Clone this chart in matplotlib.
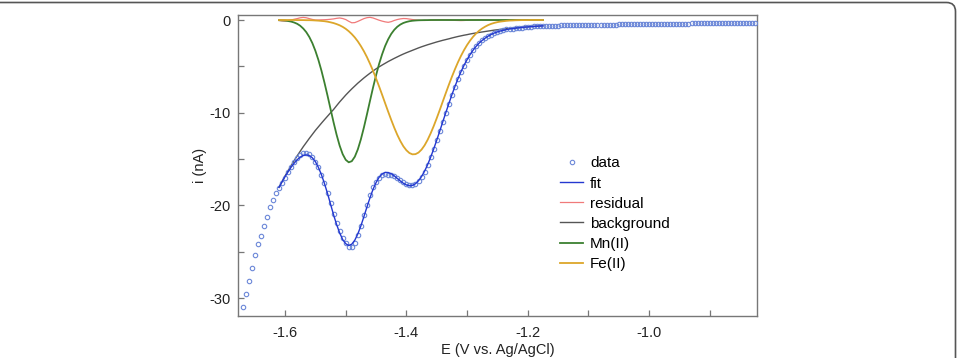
import numpy as np
import matplotlib
matplotlib.use("Agg")
import matplotlib.pyplot as plt
from matplotlib.patches import FancyBboxPatch

plt.rcParams['font.family'] = ['Liberation Sans', 'DejaVu Sans']

# scan settings of the measured curve (V)
scan_start = -1.670
scan_step = 0.005

# measured current (nA), one value per scan step
data_i = [
    -31.0, -29.6, -28.2, -26.8, -25.4, -24.2, -23.3, -22.2, -21.2, -20.2, -19.4, -18.7,
    -18.11, -17.57, -17.01, -16.44, -15.88, -15.37, -14.92, -14.55, -14.32, -14.31,
    -14.47, -14.80, -15.28, -15.90, -16.67, -17.61, -18.66, -19.78, -20.90, -21.88,
    -22.74, -23.52, -24.08, -24.46, -24.48, -24.03, -23.22, -22.21, -21.06, -19.92,
    -18.89, -18.05, -17.44, -16.99, -16.74, -16.65, -16.70, -16.76, -16.86, -17.04,
    -17.24, -17.45, -17.64, -17.78, -17.79, -17.65, -17.36, -16.93, -16.36, -15.65,
    -14.83, -13.93, -12.97, -11.98, -10.96, -9.98, -9.02, -8.09, -7.22, -6.39,
    -5.64, -4.94, -4.31, -3.74, -3.25, -2.83, -2.47, -2.19, -1.95, -1.74,
    -1.57, -1.43, -1.31, -1.20, -1.11, -1.02, -0.95, -0.92, -0.88, -0.85,
    -0.81, -0.77, -0.75, -0.71, -0.69, -0.67, -0.65, -0.63,
    -0.62, -0.62, -0.61, -0.61, -0.60, -0.59, -0.59, -0.58, -0.58, -0.57,
    -0.56, -0.56, -0.55, -0.55, -0.54, -0.53, -0.53, -0.52, -0.52, -0.51,
    -0.50, -0.50, -0.49, -0.49, -0.48, -0.48, -0.47, -0.46, -0.46, -0.45,
    -0.45, -0.44, -0.44, -0.43, -0.43, -0.42, -0.42, -0.41, -0.41, -0.40,
    -0.40, -0.40, -0.39, -0.39, -0.39, -0.38, -0.38, -0.38, -0.37, -0.37,
    -0.37, -0.36, -0.36, -0.36, -0.36, -0.35, -0.35, -0.34, -0.34, -0.33,
    -0.33, -0.32, -0.32, -0.31, -0.31, -0.31, -0.30, -0.30, -0.29, -0.29,
]

# fitted curves, sampled from -1.610 V every 0.005 V
fit_start = -1.610

fit_i = [
    -18.06, -17.47, -16.89, -16.38, -15.88, -15.45, -15.07, -14.79, -14.60, -14.55,
    -14.62, -14.86, -15.28, -15.90, -16.69, -17.64, -18.71, -19.86, -21.02, -22.06,
    -22.96, -23.68, -24.13, -24.32, -24.18, -23.75, -23.07, -22.21, -21.21, -20.17,
    -19.18, -18.27, -17.54, -16.97, -16.62, -16.45, -16.45, -16.58, -16.81, -17.09,
    -17.36, -17.61, -17.79, -17.88, -17.84, -17.66, -17.34, -16.89, -16.31, -15.61,
    -14.80, -13.92, -12.97, -11.99, -10.98, -9.99, -9.02, -8.07, -7.18, -6.34,
    -5.58, -4.89, -4.28, -3.73, -3.25, -2.84, -2.49, -2.20, -1.95, -1.73,
    -1.55, -1.40, -1.28, -1.18, -1.11, -1.03, -0.97, -0.93, -0.88, -0.84,
    -0.80, -0.77, -0.75, -0.71, -0.69, -0.67, -0.65, -0.63,
]

residual_i = [
    -0.05, -0.10, -0.12, -0.06, 0.00, 0.08, 0.15, 0.24, 0.28, 0.24,
    0.15, 0.06, 0.00, 0.00, 0.02, 0.03, 0.05, 0.08, 0.12, 0.18,
    0.22, 0.16, 0.05, -0.14, -0.30, -0.28, -0.15, 0.00, 0.15, 0.25,
    0.29, 0.22, 0.10, -0.02, -0.12, -0.20, -0.25, -0.18, -0.05, 0.05,
    0.12, 0.16, 0.15, 0.10, 0.05, 0.01, -0.02, -0.04, -0.05, -0.04,
    -0.03, -0.01, 0.00, 0.01, 0.02, 0.01, 0.00, -0.02, -0.04, -0.05,
    -0.06, -0.05, -0.03, -0.01, 0.00, 0.01, 0.02, 0.01, 0.00, -0.01,
    -0.02, -0.03, -0.03, -0.02, 0.00, 0.01, 0.02, 0.01, 0.00, -0.01,
    -0.01, 0.00, 0.00, 0.00, 0.00, 0.00, 0.00, 0.00,
]

background_i = [
    -18.04, -17.43, -16.83, -16.27, -15.71, -15.18, -14.65, -14.16, -13.67, -13.22,
    -12.77, -12.34, -11.91, -11.52, -11.13, -10.75, -10.38, -10.01, -9.65, -9.24,
    -8.84, -8.47, -8.10, -7.76, -7.43, -7.12, -6.81, -6.53, -6.25, -5.99,
    -5.74, -5.50, -5.27, -5.06, -4.86, -4.67, -4.48, -4.31, -4.14, -3.98,
    -3.82, -3.67, -3.53, -3.40, -3.27, -3.14, -3.01, -2.89, -2.78, -2.67,
    -2.57, -2.47, -2.37, -2.28, -2.19, -2.11, -2.03, -1.94, -1.86, -1.78,
    -1.71, -1.64, -1.58, -1.51, -1.45, -1.39, -1.34, -1.29, -1.24, -1.19,
    -1.14, -1.09, -1.05, -1.01, -0.98, -0.94, -0.91, -0.88, -0.85, -0.82,
    -0.79, -0.76, -0.74, -0.71, -0.69, -0.67, -0.65, -0.63,
]

mn_i = [
    -0.02, -0.04, -0.06, -0.11, -0.17, -0.27, -0.41, -0.62, -0.92, -1.31,
    -1.83, -2.49, -3.32, -4.31, -5.46, -6.76, -8.15, -9.60, -11.04, -12.38,
    -13.55, -14.47, -15.08, -15.35, -15.23, -14.75, -13.95, -12.87, -11.59, -10.18,
    -8.73, -7.30, -5.97, -4.75, -3.70, -2.80, -2.08, -1.50, -1.06, -0.73,
    -0.49, -0.32, -0.21, -0.13, -0.08, -0.05, -0.03, -0.02, -0.01, -0.01,
    0.00, 0.00, 0.00, 0.00, 0.00, 0.00, 0.00, 0.00, 0.00, 0.00,
    0.00, 0.00, 0.00, 0.00, 0.00, 0.00, 0.00, 0.00, 0.00, 0.00,
    0.00, 0.00, 0.00, 0.00, 0.00, 0.00, 0.00, 0.00, 0.00, 0.00,
    0.00, 0.00, 0.00, 0.00, 0.00, 0.00, 0.00, 0.00,
]

fe_i = [
    0.00, 0.00, 0.00, 0.00, 0.00, 0.00, -0.01, -0.01, -0.01, -0.02,
    -0.02, -0.03, -0.05, -0.07, -0.10, -0.13, -0.18, -0.25, -0.33, -0.44,
    -0.57, -0.74, -0.95, -1.21, -1.52, -1.88, -2.31, -2.81, -3.37, -4.00,
    -4.71, -5.47, -6.30, -7.16, -8.06, -8.98, -9.89, -10.77, -11.61, -12.38,
    -13.05, -13.62, -14.05, -14.35, -14.49, -14.47, -14.30, -13.98, -13.52, -12.93,
    -12.23, -11.45, -10.60, -9.71, -8.79, -7.88, -6.99, -6.13, -5.32, -4.56,
    -3.87, -3.25, -2.70, -2.22, -1.80, -1.45, -1.15, -0.91, -0.71, -0.54,
    -0.41, -0.31, -0.23, -0.17, -0.13, -0.09, -0.06, -0.05, -0.03, -0.02,
    -0.01, -0.01, -0.01, 0.00, 0.00, 0.00, 0.00, 0.00,
]

data_e = scan_start + scan_step * np.arange(len(data_i))
fit_e = fit_start + scan_step * np.arange(len(fit_i))

fig = plt.figure(figsize=(9.59, 3.58), dpi=100)
ax = fig.add_axes([0.2482, 0.1173, 0.5412, 0.8408])

ax.plot(data_e, data_i, linestyle='none', marker='o', markersize=3.2,
        markerfacecolor='none', markeredgecolor='#6b87d8', markeredgewidth=0.8,
        label='data', zorder=3)
ax.plot(fit_e, fit_i, color='#2438d0', lw=1.0, label='fit', zorder=4)
ax.plot(fit_e, residual_i, color='#f07a7a', lw=0.9, label='residual', zorder=2)
ax.plot(fit_e, background_i, color='#555555', lw=1.0, label='background', zorder=2)
ax.plot(fit_e, mn_i, color='#3c8030', lw=1.3, label='Mn(II)', zorder=2)
ax.plot(fit_e, fe_i, color='#dca62a', lw=1.3, label='Fe(II)', zorder=2)

ax.set_xlim(-1.6775, -0.822)
ax.set_ylim(-31.93, 0.54)
ax.set_xticks([-1.6, -1.4, -1.2, -1.0])
ax.set_xticklabels(['-1.6', '-1.4', '-1.2', '-1.0'])
ax.set_xticks([-1.5, -1.3, -1.1, -0.9], minor=True)
ax.set_yticks([0, -10, -20, -30])
ax.set_yticklabels(['0', '-10', '-20', '-30'])
ax.set_yticks([-5, -15, -25], minor=True)
ax.tick_params(which='both', direction='in', length=4, width=0.9,
               color='#777777', labelsize=10.5, labelcolor='#222222')
ax.tick_params(axis='x', pad=7)
ax.tick_params(axis='y', pad=5)
for s in ax.spines.values():
    s.set_color('#777777')
    s.set_linewidth(1.0)

ax.set_xlabel('E (V vs. Ag/AgCl)', fontsize=10.5, color='#222222', labelpad=2)
ax.set_ylabel('i (nA)', fontsize=10.5, color='#222222', labelpad=2)

ax.legend(loc='upper left', bbox_to_anchor=(0.621, 0.53), frameon=False,
          fontsize=11, handlelength=1.5, handletextpad=0.45, labelspacing=0.4,
          borderpad=0, borderaxespad=0)

frame = FancyBboxPatch((-30, -30), 985.5, 385.5, boxstyle='round,pad=0,rounding_size=9',
                       transform=None, facecolor='none', edgecolor='#555555',
                       linewidth=1.2, zorder=10)
fig.patches.append(frame)

fig.savefig('out.png', dpi=100)
